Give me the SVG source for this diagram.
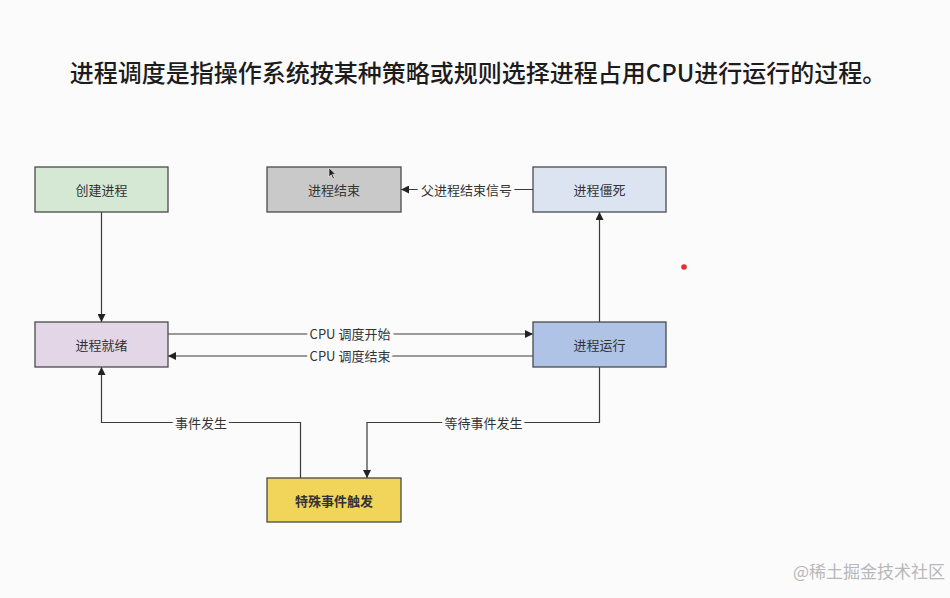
<svg xmlns="http://www.w3.org/2000/svg" width="950" height="598" viewBox="0 0 950 598">
<style>
text{font-family:"Noto Sans CJK SC","Noto Sans",sans-serif}
.box{stroke:#4a4a4a;stroke-width:1.3}
.nt{font-size:13px;fill:#333;text-anchor:middle;dominant-baseline:central}
.edge{fill:none;stroke:#3a3a3a;stroke-width:1.2}
.lbl{font-size:13px;fill:#333;text-anchor:middle;dominant-baseline:central;stroke:#fbfbfb;stroke-width:6;paint-order:stroke}
</style>
<defs>
<marker id="ah" viewBox="0 0 10 10" refX="10" refY="5" markerWidth="8" markerHeight="8" markerUnits="userSpaceOnUse" orient="auto">
<path d="M0,0 L10,5 L0,10 Z" fill="#222"/>
</marker>
</defs>
<rect width="950" height="598" fill="#fbfbfb"/>
<text x="478" y="82" font-size="24" font-weight="500" fill="#1c1c1c" text-anchor="middle">进程调度是指操作系统按某种策略或规则选择进程占用CPU进行运行的过程。</text>

<g id="connectors">
<line class="edge" x1="101.5" y1="212" x2="101.5" y2="322" marker-end="url(#ah)"/>
<line class="edge" x1="168" y1="334" x2="533" y2="334" marker-end="url(#ah)"/>
<line class="edge" x1="533" y1="356" x2="168" y2="356" marker-end="url(#ah)"/>
<line class="edge" x1="599.5" y1="322" x2="599.5" y2="212" marker-end="url(#ah)"/>
<line class="edge" x1="533" y1="189.5" x2="401" y2="189.5" marker-end="url(#ah)"/>
<polyline class="edge" points="599.5,367 599.5,422.5 367,422.5 367,478" marker-end="url(#ah)"/>
<polyline class="edge" points="300.5,478 300.5,422.5 101.5,422.5 101.5,367" marker-end="url(#ah)"/>
<text class="lbl" x="350" y="333">CPU 调度开始</text>
<text class="lbl" x="350" y="355">CPU 调度结束</text>
<text class="lbl" x="466.5" y="189">父进程结束信号</text>
<text class="lbl" x="483.5" y="422">等待事件发生</text>
<text class="lbl" x="201" y="422">事件发生</text>
</g>

<g id="create"><rect class="box" x="35" y="167" width="133" height="45" fill="#d5e8d4"/><text class="nt" x="101.5" y="189.5">创建进程</text></g>
<g id="end"><rect class="box" x="267" y="167" width="134" height="45" fill="#c9c9c9"/><text class="nt" x="334" y="189.5">进程结束</text></g>
<g id="zombie"><rect class="box" x="533" y="167" width="133" height="45" fill="#dce4f2"/><text class="nt" x="599.5" y="189.5">进程僵死</text></g>
<g id="ready"><rect class="box" x="35" y="322" width="133" height="45" fill="#e3d6e6"/><text class="nt" x="101.5" y="344.5">进程就绪</text></g>
<g id="running"><rect class="box" x="533" y="322" width="133" height="45" fill="#aec3e6"/><text class="nt" x="599.5" y="344.5">进程运行</text></g>
<g id="event"><rect class="box" x="267" y="478" width="134" height="44" fill="#f1d45a"/><text class="nt" x="334" y="500" font-weight="bold" fill="#3a3210">特殊事件触发</text></g>

<path d="M329,168 L329,177 L331.2,174.8 L333,178.8 L334.3,178.2 L332.5,174.2 L335.6,174.2 Z" fill="#222" stroke="#fff" stroke-width="0.5"/>
<circle cx="684" cy="267" r="2.8" fill="#e53030"/>
<text x="945" y="578" font-size="17" fill="#b8b8b8" text-anchor="end">@稀土掘金技术社区</text>
</svg>
